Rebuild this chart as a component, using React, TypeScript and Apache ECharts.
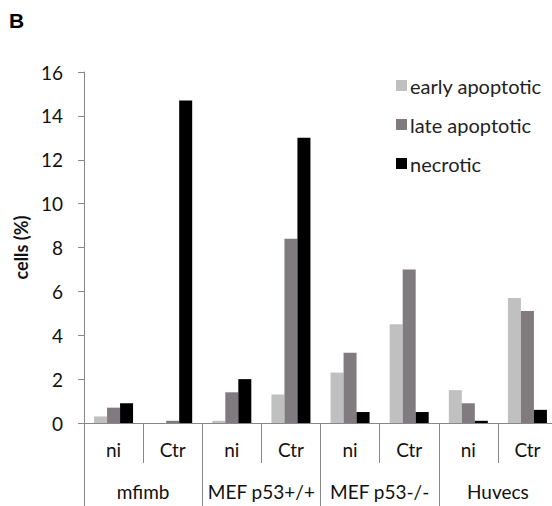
import React, { useEffect, useRef } from "react";
import * as echarts from "echarts";

const subCategories = ["ni", "Ctr", "ni", "Ctr", "ni", "Ctr", "ni", "Ctr"];
const groups = ["mfimb", "MEF p53+/+", "MEF p53-/-", "Huvecs"];
const seriesNames = ["early apoptotic", "late apoptotic", "necrotic"];
const early = [0.3, 0.0, 0.1, 1.3, 2.3, 4.5, 1.5, 5.7];
const late = [0.7, 0.1, 1.4, 8.4, 3.2, 7.0, 0.9, 5.1];
const necrotic = [0.9, 14.7, 2.0, 13.0, 0.5, 0.5, 0.1, 0.6];
const colors = ["#c0c0c0", "#7f7b7e", "#000000"];

const FONT = "Lato";
const AXIS_COLOR = "#888888";

export default function App() {
  const ref = useRef<HTMLDivElement>(null);
  useEffect(() => {
    if (!ref.current) return;
    const chart = echarts.init(ref.current, null, { renderer: "svg" });
    const values = [early, late, necrotic];
    chart.setOption({
      animation: false,
      backgroundColor: "#ffffff",
      textStyle: { fontFamily: FONT },
      graphic: [
        {
          type: "text",
          left: 9,
          top: 10,
          style: { text: "B", font: "bold 21px 'Liberation Sans', Arial", fill: "#000" },
        },
      ],
      legend: {
        orient: "vertical",
        left: 396,
        top: 75,
        padding: 0,
        itemWidth: 11,
        itemHeight: 11,
        itemGap: 18,
        icon: "rect",
        textStyle: { fontFamily: FONT, fontSize: 20, color: "#222", lineHeight: 21, padding: [0, 0, 0, -2] },
        data: seriesNames,
      },
      grid: {
        left: 84,
        top: 72,
        width: 473,
        bottom: 83,
        containLabel: false,
        outerBoundsMode: "none",
      },
      xAxis: [
        {
          type: "category",
          position: "bottom",
          data: subCategories,
          axisLine: { show: true, lineStyle: { color: AXIS_COLOR, width: 1 } },
          axisTick: { show: true, length: 40, interval: 0, lineStyle: { color: AXIS_COLOR } },
          axisLabel: { interval: 0, margin: 17, fontSize: 19, color: "#111", fontFamily: FONT },
        },
        {
          type: "category",
          position: "bottom",
          data: groups,
          axisLine: { show: false },
          axisTick: { show: true, length: 90, interval: 0, lineStyle: { color: AXIS_COLOR } },
          axisLabel: { interval: 0, margin: 59, fontSize: 19, color: "#111", fontFamily: FONT },
        },
      ],
      yAxis: {
        type: "value",
        min: 0,
        max: 16,
        interval: 2,
        name: "cells (%)",
        nameLocation: "middle",
        nameGap: 46,
        nameTextStyle: { fontFamily: FONT, fontSize: 18, fontWeight: "bold", color: "#111" },
        axisLine: { show: true, lineStyle: { color: AXIS_COLOR, width: 1 } },
        axisTick: { show: true, length: 6, lineStyle: { color: AXIS_COLOR } },
        axisLabel: { margin: 21, fontSize: 19, color: "#111", fontFamily: FONT },
        splitLine: { show: false },
      },
      series: seriesNames.map((name, i) => ({
        name,
        type: "bar",
        xAxisIndex: 0,
        data: values[i],
        barWidth: 13,
        barGap: "0%",
        itemStyle: { color: colors[i] },
      })),
    });
    return () => chart.dispose();
  }, []);
  return (
    <div
      ref={ref}
      style={{ position: "absolute", left: 0, top: 0, width: 552, height: 506 }}
    />
  );
}
